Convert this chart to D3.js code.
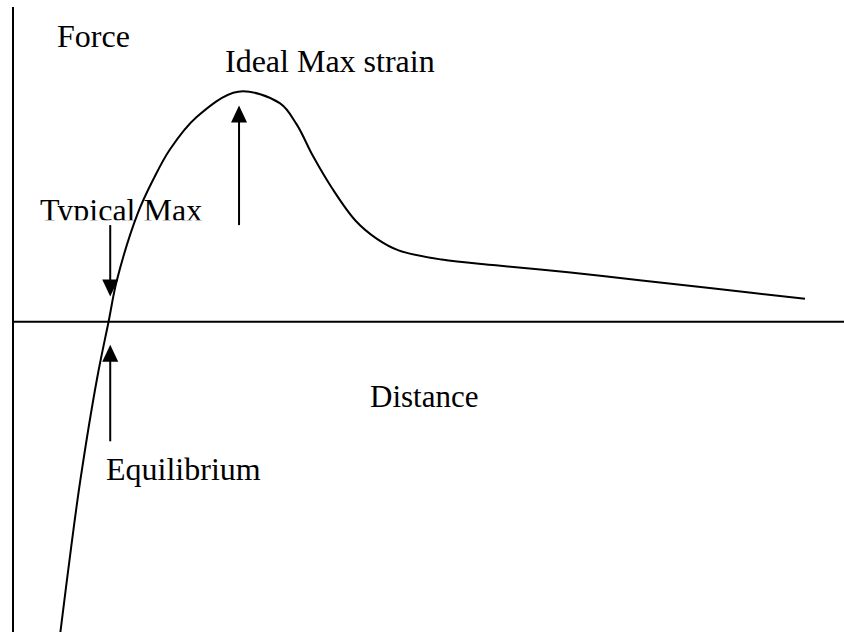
<!DOCTYPE html>
<html>
<head>
<meta charset="utf-8">
<script src="https://cdn.jsdelivr.net/npm/d3@7"></script>
<style>
  html, body { margin: 0; padding: 0; background: #fff; }
  svg { display: block; }
  text { font-family: "Liberation Serif", "Times New Roman", serif; fill: #000; }
</style>
</head>
<body>
<div id="container"></div>
<script>
// force vs distance curve (force in units of the peak)
let distance = [0.57, 0.70, 0.81, 1.01, 1.15, 1.25, 1.50, 1.69, 1.89, 2.21, 2.71,
                3.21, 3.41, 3.61, 3.84, 4.12, 4.38, 4.64, 5.16, 5.81, 6.68, 7.54, 8.41, 9.53];
let force = [-1.35, -0.98, -0.69, -0.25, 0.0, 0.18, 0.47, 0.62, 0.75, 0.89, 1.0,
             0.95, 0.86, 0.72, 0.58, 0.44, 0.36, 0.31, 0.27, 0.245, 0.215, 0.18, 0.145, 0.10];

// arrows: x position, start force, end (tip) force
let arrowNames = ["ideal", "typical", "equilibrium"];
let arrowX = [2.72, 1.17, 1.17];
let arrowFrom = [0.42, 0.42, -0.52];
let arrowTo = [0.94, 0.11, -0.10];

let w = 844;
let h = 632;

let viz = d3.select("#container")
  .append("svg")
    .attr("width", w)
    .attr("height", h)
;

// scales: distance 0..10 across the width, force 0 at the axis, 1 at the peak
let xScale = d3.scaleLinear().domain([0, 10]).range([13, 844]);
let yScale = d3.scaleLinear().domain([0, 1]).range([321.7, 91.7]);

// axes (plain lines, no ticks)
viz.append("line")
  .attr("x1", xScale(0)).attr("x2", xScale(0))
  .attr("y1", 7).attr("y2", h)
  .attr("stroke", "#000").attr("stroke-width", 2);

viz.append("line")
  .attr("x1", xScale(0)).attr("x2", w)
  .attr("y1", yScale(0)).attr("y2", yScale(0))
  .attr("stroke", "#000").attr("stroke-width", 2);

// labels
viz.append("text").attr("x", 57).attr("y", 47).attr("font-size", 32).text("Force");
viz.append("text").attr("x", 225).attr("y", 72).attr("font-size", 32).text("Ideal Max strain");
viz.append("text").attr("x", 370).attr("y", 407).attr("font-size", 31).text("Distance");
viz.append("text").attr("x", 106).attr("y", 480).attr("font-size", 32).text("Equilibrium");

// the "Typical Max" label is cut off at its baseline in the original
viz.append("clipPath").attr("id", "cutTypical")
  .append("rect").attr("x", 0).attr("y", 150).attr("width", 300).attr("height", 70.3);
viz.append("text")
  .attr("x", 40).attr("y", 221).attr("font-size", 32)
  .attr("clip-path", "url(#cutTypical)")
  .text("Typical Max");

// the curve
let curveData = distance.map(function(d, i){ return {x: d, y: force[i]}; });
let line = d3.line()
  .x(function(d){ return xScale(d.x); })
  .y(function(d){ return yScale(d.y); })
  .curve(d3.curveCatmullRom.alpha(0.5));

viz.append("path")
  .datum(curveData)
  .attr("d", line)
  .attr("fill", "none")
  .attr("stroke", "#000")
  .attr("stroke-width", 2);

// arrows with filled triangle heads
let arrows = arrowNames.map(function(n, i){
  return {name: n, x: arrowX[i], from: arrowFrom[i], to: arrowTo[i]};
});
let headLen = 17;
let headHalf = 8;

let arrowGroups = viz.selectAll(".arrow").data(arrows).enter()
  .append("g").classed("arrow", true);

arrowGroups.append("line")
  .attr("x1", function(d){ return xScale(d.x); })
  .attr("x2", function(d){ return xScale(d.x); })
  .attr("y1", function(d){ return yScale(d.from); })
  .attr("y2", function(d){
    let dir = yScale(d.to) < yScale(d.from) ? 1 : -1;
    return yScale(d.to) + dir * (headLen - 2);
  })
  .attr("stroke", "#000").attr("stroke-width", 2);

arrowGroups.append("path")
  .attr("d", function(d){
    let x = xScale(d.x);
    let tip = yScale(d.to);
    let dir = tip < yScale(d.from) ? 1 : -1;
    let base = tip + dir * headLen;
    return "M" + x + "," + tip + "L" + (x - headHalf) + "," + base + "L" + (x + headHalf) + "," + base + "Z";
  })
  .attr("fill", "#000");
</script>
</body>
</html>
